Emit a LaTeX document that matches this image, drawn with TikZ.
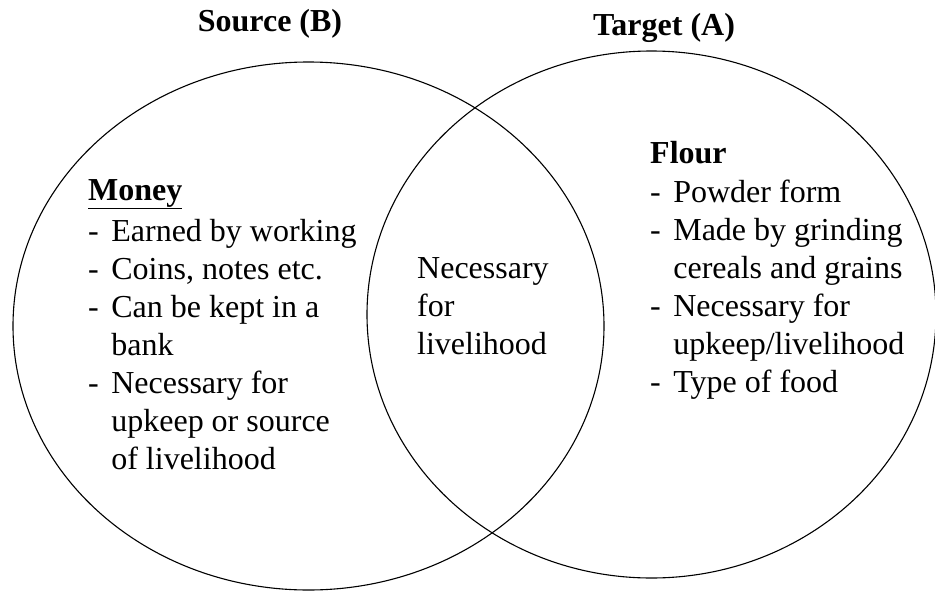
\documentclass[tikz,border=0pt]{standalone}
\usepackage{fontspec}
\setmainfont{Liberation Serif}

\begin{document}
\begin{tikzpicture}[
    x=1pt, y=-1pt,
    venn/.style={draw=black, line width=1.1pt},
    heading/.style={font=\fontsize{32}{38}\selectfont\bfseries, anchor=base, inner sep=0pt},
    listbox/.style={font=\fontsize{32}{38}\selectfont, anchor=base west, inner sep=0pt}
]
\useasboundingbox (0,0) rectangle (935,592);

% the two sets
\coordinate (source) at (308.5,326);
\coordinate (target) at (651.5,314.5);
\draw[venn] (source) ellipse [x radius=295.5, y radius=264];
\draw[venn] (target) ellipse [x radius=284.5, y radius=263.5];

\node[heading] (srctitle) at (270,31) {Source (B)};
\node[heading] (tgttitle) at (664,35) {Target (A)};

% left only
\node[listbox] (money) at (88,200) {%
  \begin{tabular}[t]{@{}l@{\hspace{12.5pt}}l@{}}
    \multicolumn{2}{@{}l@{}}{\textbf{\underline{Money}}}\\[3pt]
    - & Earned by working\\
    - & Coins, notes etc.\\
    - & Can be kept in a\\
      & bank\\
    - & Necessary for\\
      & upkeep or source\\
      & of livelihood
  \end{tabular}};

% overlap
\node[listbox] (shared) at (417,278) {%
  \begin{tabular}[t]{@{}l@{}}
    Necessary\\
    for\\
    livelihood
  \end{tabular}};

% right only
\node[listbox] (flour) at (650,163) {%
  \begin{tabular}[t]{@{}l@{\hspace{12.5pt}}l@{}}
    \multicolumn{2}{@{}l@{}}{\textbf{Flour}}\\[1pt]
    - & Powder form\\
    - & Made by grinding\\
      & cereals and grains\\
    - & Necessary for\\
      & upkeep/livelihood\\
    - & Type of food
  \end{tabular}};
\end{tikzpicture}
\end{document}
